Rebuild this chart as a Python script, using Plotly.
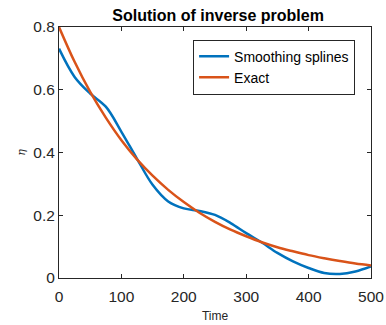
import plotly.graph_objects as go

time = [0, 25, 50, 75, 100, 125, 150, 175, 200, 225, 250, 275, 300, 325, 350, 375, 400, 425, 450, 475, 500]
smoothing = [0.731, 0.641, 0.588, 0.546, 0.466, 0.380, 0.297, 0.244, 0.222, 0.214, 0.201, 0.175, 0.143, 0.113, 0.080, 0.053, 0.032, 0.016, 0.013, 0.021, 0.037]
exact = [0.800, 0.689, 0.593, 0.511, 0.439, 0.378, 0.326, 0.281, 0.242, 0.208, 0.179, 0.154, 0.133, 0.114, 0.098, 0.085, 0.073, 0.063, 0.054, 0.046, 0.040]

FONT = "Liberation Sans, Arial, sans-serif"
fig = go.Figure()
fig.add_trace(go.Scatter(x=time, y=smoothing, mode="lines", name="Smoothing splines",
                         line=dict(color="#0072BD", width=2.5, shape="spline")))
fig.add_trace(go.Scatter(x=time, y=exact, mode="lines", name="Exact",
                         line=dict(color="#D95319", width=2.5, shape="spline")))

axis_common = dict(showline=True, linecolor="#262626", linewidth=1, mirror="ticks",
                   ticks="inside", ticklen=4, tickcolor="#262626", showgrid=False,
                   zeroline=False, automargin=False,
                   tickfont=dict(family=FONT, size=15.5, color="#262626"))
fig.update_xaxes(range=[0, 500], tickvals=[0, 100, 200, 300, 400, 500], ticklabelstandoff=4,
                 title=dict(text="Time", font=dict(family=FONT, size=12, color="#262626"), standoff=8),
                 **axis_common)
fig.update_yaxes(range=[0, 0.8], tickvals=[0, 0.2, 0.4, 0.6, 0.8], ticktext=["0", "0.2", "0.4", "0.6", "0.8"],
                 title=dict(text="<i>η</i>", font=dict(family="DejaVu Serif, serif", size=11, color="#262626"), standoff=5),
                 **axis_common)
fig.update_layout(
    width=386, height=325,
    margin=dict(l=59, r=15, t=27, b=47),
    paper_bgcolor="white", plot_bgcolor="white",
    title=dict(text="<b>Solution of inverse problem</b>", x=0.565, xanchor="center", y=0.953, yanchor="middle",
               font=dict(family=FONT, size=16, color="black")),
    legend=dict(x=0.949, xanchor="right", y=0.95, yanchor="top", bordercolor="#262626", borderwidth=1,
                bgcolor="white", font=dict(family=FONT, size=14, color="black"), tracegroupgap=0),
    showlegend=True,
)
fig.write_html("out.html")
